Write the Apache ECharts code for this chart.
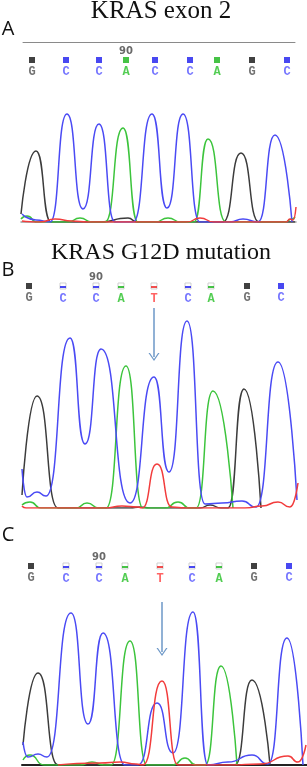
<!DOCTYPE html>
<html>
<head>
<meta charset="utf-8">
<script src="https://cdn.jsdelivr.net/npm/echarts@6/dist/echarts.min.js"></script>
<style>
html,body{margin:0;padding:0;background:#fff}
#chart{width:307px;height:767px}
</style>
</head>
<body>
<div id="chart"></div>
<script>
// A: KRAS exon 2 (wild type)
var basesA = ['G','C','C','A','C','C','A','G','C'];
var callPosA = [32, 66, 99, 126, 155, 190, 217, 252, 287];
var callQualA = [1,1,1,1,1,1,1,1,1];
var tickA = 90, tickIdxA = 3;
var blackA = [[21,8],[36,71],[51,0],[100,0],[128,4],[137,0],[223,0],[241,69],[259,0],[295,0]];
var blueA = [[22,8],[36,2],[50,0],[67,108],[83,13],[99,98],[115,0],[133,0],[152,108],[167,14],[183,108],[200,0],[230,0],[243,3],[258,0],[275,87],[292,0]];
var greenA = [[21,3],[27,6],[37,0],[68,0],[80,4],[92,0],[105,0],[123,94],[138,0],[155,0],[168,4],[181,0],[194,0],[208,83],[226,0],[285,0],[292,3],[295,5]];
var redA = [[22,1],[40,0],[55,3],[72,1],[88,0],[187,0],[200,4],[214,0],[286,0],[290,3],[293,2],[296,15]];

// B: KRAS G12D mutation
var basesB = ['G','C','C','A','T','C','A','G','C'];
var callPosB = [29, 63, 96, 121, 154, 188, 211, 247, 281];
var callQualB = [1,0,0,0,0,0,0,1,1];
var tickB = 90, tickIdxB = 2;
var blackB = [[22,13],[37,112],[58,0],[130,0],[140,1],[150,0],[200,0],[210,3],[221,0],[228,0],[244,119],[261,0]];
var blueB = [[22,39],[27,11],[37,16],[46,12],[70,170],[85,64],[101,159],[130,5],[154,131],[169,36],[187,187],[205,4],[222,5],[242,7],[256,1],[278,146],[297,8]];
var greenB = [[22,3],[30,6],[41,0],[76,0],[87,5],[99,0],[106,0],[126,142],[143,0],[165,0],[178,6],[190,0],[196,0],[213,117],[233,0]];
var redB = [[22,2],[26,0],[105,0],[122,2],[138,1],[142,0],[157,44],[172,1],[185,0],[245,0],[262,2],[278,6],[290,1],[298,25]];
var arrowB = [154, 200, 151]; // position, from, to

// C
var basesC = ['G','C','C','A','T','C','A','G','C'];
var callPosC = [31, 66, 99, 125, 160, 192, 219, 254, 289];
var callQualC = [1,0,0,0,0,0,0,1,1];
var tickC = 90, tickIdxC = 2;
var blackC = [[23,20],[38,92],[58,0],[235,0],[252,85],[270,0]];
var blueC = [[23,23],[28,8],[38,11],[47,8],[71,152],[88,41],[103,132],[125,0],[138,0],[157,62],[173,12],[193,153],[208,0],[228,3],[252,10],[268,1],[287,127],[303,0]];
var greenC = [[23,5],[30,10],[44,0],[80,0],[92,3],[104,0],[111,0],[130,124],[147,0],[173,0],[185,7],[196,0],[205,0],[221,99],[237,0]];
var redC = [[58,0],[100,2],[120,3],[136,1],[143,0],[162,84],[178,0],[230,0],[260,1],[288,9],[298,3],[306,20]];
var arrowC = [162, 163, 113];

var traceColor = {G:'#3c3c3c', C:'#4a4af4', A:'#3cc43c', T:'#f23c3c'};
var squareColor = {G:'#111111', C:'#1a1aee', A:'#18b418', T:'#ee2222'};
var letterColor = {G:'#505050', C:'#5252ff', A:'#28c028', T:'#ff3c3c'};
var chevron = 'path://M0,10L5,0L10,10L8.7,10L5,2.6L1.3,10Z';

//面板布局 (像素)
var panels = [
	{bases:basesA, pos:callPosA, qual:callQualA, tick:tickA, tickIdx:tickIdxA,
	 traces:{G:blackA, C:blueA, A:greenA, T:redA}, arrow:null,
	 calls:{left:23, right:295, top:42, topLine:true},
	 trace:{left:21, right:296, top:102, bottom:222, max:120, base:{color:'#9a9a9a', width:1.5}}},
	{bases:basesB, pos:callPosB, qual:callQualB, tick:tickB, tickIdx:tickIdxB,
	 traces:{G:blackB, C:blueB, A:greenB, T:redB}, arrow:arrowB,
	 calls:{left:20, right:299, top:268, topLine:false},
	 trace:{left:20, right:299, top:308, bottom:508, max:200, base:null}},
	{bases:basesC, pos:callPosC, qual:callQualC, tick:tickC, tickIdx:tickIdxC,
	 traces:{G:blackC, C:blueC, A:greenC, T:redC}, arrow:arrowC,
	 calls:{left:22, right:307, top:548, topLine:false},
	 trace:{left:22, right:307, top:600, bottom:765, max:165, base:{color:'#222', width:2}}}
];

var grids = [], xAxes = [], yAxes = [], series = [];

var $each = function(arr, fn){ for (var i = 0; i < arr.length; i++) fn(arr[i], i); };

$each(panels, function(p){
	// base call row
	var gi = grids.length;
	grids.push({left:p.calls.left, top:p.calls.top, width:p.calls.right - p.calls.left, height:24, outerBoundsMode:'none'});
	xAxes.push({gridIndex:gi, type:'value', min:p.calls.left, max:p.calls.right, position:'top',
		axisLine:{show:p.calls.topLine, onZero:false, lineStyle:{color:'#8a8a8a', width:1}},
		axisTick:{show:false}, axisLabel:{show:false}, splitLine:{show:false}});
	yAxes.push({gridIndex:gi, type:'value', min:0, max:8, show:false});

	var sq = [], bars = [];
	$each(p.bases, function(b, i){
		var filled = p.qual[i] === 1;
		sq.push({value:[p.pos[i], 2],
			itemStyle: filled ? {color:squareColor[b]} : {color:'#fff', borderColor:'#c4c4c4', borderWidth:1},
			label:{color:letterColor[b]}});
		if (!filled) bars.push({value:[p.pos[i], 2], itemStyle:{color:squareColor[b]}});
	});
	series.push({type:'scatter', xAxisIndex:gi, yAxisIndex:gi, symbol:'rect', symbolSize:6, data:sq, silent:true, z:3,
		label:{show:true, position:'bottom', distance:3, fontFamily:'Liberation Mono', fontWeight:'bold', fontSize:12,
			formatter:function(d){ return p.bases[d.dataIndex]; }}});
	series.push({type:'scatter', xAxisIndex:gi, yAxisIndex:gi, symbol:'rect', symbolSize:[6,2], symbolOffset:[0,1], data:bars, silent:true, z:4});
	series.push({type:'scatter', xAxisIndex:gi, yAxisIndex:gi, symbolSize:1, itemStyle:{color:'rgba(0,0,0,0)'},
		data:[[p.pos[p.tickIdx], 2]], silent:true, z:4,
		label:{show:true, position:'top', distance:3, formatter:String(p.tick), color:'#444', fontSize:10, fontWeight:'bold', fontFamily:'DejaVu Sans'}});

	// trace
	var ti = grids.length;
	var t = p.trace;
	grids.push({left:t.left, top:t.top, width:t.right - t.left, height:t.bottom - t.top, outerBoundsMode:'none'});
	xAxes.push({gridIndex:ti, type:'value', min:t.left, max:t.right,
		axisLine:{show:!!t.base, onZero:false, lineStyle:t.base || {}},
		axisTick:{show:false}, axisLabel:{show:false}, splitLine:{show:false}});
	yAxes.push({gridIndex:ti, type:'value', min:0, max:t.max, show:false});

	$each(['G','A','C','T'], function(b){
		var s = {type:'line', xAxisIndex:ti, yAxisIndex:ti, data:p.traces[b], showSymbol:false, symbol:'none',
			smooth:0.6, smoothMonotone:'x', lineStyle:{color:traceColor[b], width:1.5}, silent:true, z:2};
		if (b === 'T' && p.arrow) {
			s.markLine = {silent:true, symbol:['none', chevron], symbolSize:[11,8], animation:false,
				lineStyle:{color:'#6c97c7', width:1.5, type:'solid'}, label:{show:false},
				data:[[{coord:[p.arrow[0], p.arrow[1]]}, {coord:[p.arrow[0], p.arrow[2]]}]]};
		}
		series.push(s);
	});
});

var chart = echarts.init(document.getElementById('chart'));
chart.setOption({
	animation:false,
	backgroundColor:'#fff',
	grid:grids, xAxis:xAxes, yAxis:yAxes, series:series,
	graphic:[
		{type:'text', x:161, y:11, style:{text:'KRAS exon 2', font:'25px "Liberation Serif"', fill:'#111', align:'center', verticalAlign:'middle', textAlign:'center', textVerticalAlign:'middle'}},
		{type:'text', x:161, y:253, style:{text:'KRAS G12D mutation', font:'24px "Liberation Serif"', fill:'#111', align:'center', verticalAlign:'middle', textAlign:'center', textVerticalAlign:'middle'}},
		{type:'text', x:8, y:29, style:{text:'A', font:'20px "Open Sans"', fill:'#111', align:'center', verticalAlign:'middle', textAlign:'center', textVerticalAlign:'middle'}},
		{type:'text', x:8, y:270, style:{text:'B', font:'20px "Open Sans"', fill:'#111', align:'center', verticalAlign:'middle', textAlign:'center', textVerticalAlign:'middle'}},
		{type:'text', x:8, y:535, style:{text:'C', font:'20px "Open Sans"', fill:'#111', align:'center', verticalAlign:'middle', textAlign:'center', textVerticalAlign:'middle'}}
	]
});
</script>
</body>
</html>
